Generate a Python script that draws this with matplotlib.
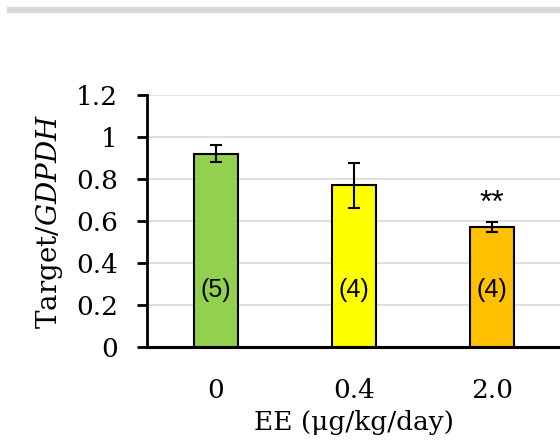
import matplotlib.pyplot as plt
import matplotlib.patches as patches

# данные
doses = ['0', '0.4', '2.0']
means = [0.92, 0.77, 0.573]
errs = [0.04, 0.107, 0.024]
n_labels = ['(5)', '(4)', '(4)']
colors = ['#92D050', '#FFFF00', '#FFC000']
signif = ['', '', '**']

plt.rcParams['mathtext.fontset'] = 'dejavuserif'

fig = plt.figure(figsize=(5.6, 4.45), dpi=100)
ax = fig.add_axes([0.2625, 0.2202, 0.7393, 0.5663])

# серая полоса сверху
fig.patches.append(patches.Rectangle((7 / 560, 1 - 12 / 445), 1, 5 / 445,
                                     transform=fig.transFigure, color='#d9d9d9', zorder=0))

x = range(len(doses))
ax.bar(x, means, width=0.32, color=colors, edgecolor='black', linewidth=1.5, zorder=3)
ax.errorbar(x, means, yerr=errs, fmt='none', ecolor='black', elinewidth=1.5,
            capsize=4.5, capthick=1.5, zorder=4)

for i in x:
    ax.text(i, 0.27, n_labels[i], ha='center', va='center', fontsize=18,
            family='Liberation Sans', zorder=5)
    if signif[i]:
        ax.text(i, means[i] + errs[i] + 0.085, signif[i], ha='center', va='center',
                fontsize=23, family='Liberation Sans', zorder=5)

ax.set_xlim(-0.5, 2.5)
ax.set_ylim(0, 1.2)
ax.set_yticks([0, 0.2, 0.4, 0.6, 0.8, 1.0, 1.2])
ax.set_yticklabels(['0', '0.2', '0.4', '0.6', '0.8', '1', '1.2'])
ax.set_xticks(list(x))
ax.set_xticklabels(doses)
ax.grid(axis='y', color='#d9d9d9', linewidth=1.2, zorder=0)
ax.set_axisbelow(True)

for s in ['top', 'right']:
    ax.spines[s].set_visible(False)
ax.spines['left'].set_linewidth(2)
ax.spines['bottom'].set_linewidth(2.2)
ax.tick_params(axis='y', length=7, width=2, labelsize=19, pad=14)
ax.tick_params(axis='x', length=0, labelsize=19, pad=22)
for lab in ax.get_xticklabels() + ax.get_yticklabels():
    lab.set_family('DejaVu Serif')

ax.set_ylabel(r'Target/$\mathit{GDPDH}$', fontsize=20, family='DejaVu Serif', labelpad=8)
ax.set_xlabel('EE (μg/kg/day)', fontsize=19, family='DejaVu Serif', labelpad=5)

fig.savefig('out.png', dpi=100)
